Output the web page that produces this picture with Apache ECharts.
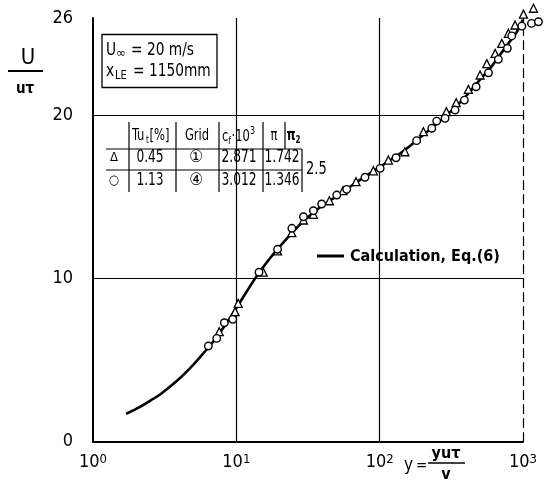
<!DOCTYPE html>
<html><head><meta charset="utf-8">
<script src="https://cdn.jsdelivr.net/npm/echarts@6/dist/echarts.min.js"></script>
<style>html,body{margin:0;background:#fff}#c{width:547px;height:484px}</style>
</head><body><div id="c"></div>
<script>
const FONT = "'DejaVu Sans Condensed','DejaVu Sans',sans-serif";

// Calculation, Eq.(6)
const calcX = [1.7, 2, 2.5, 3, 4, 5, 6, 7, 8, 9, 10, 12, 14, 17, 20, 25, 30, 40, 50, 70, 100, 150, 200, 300, 400, 500, 600, 700, 800, 900, 1000];
const calcU = [1.7, 2.0, 2.5, 2.95, 3.85, 4.7, 5.5, 6.2, 6.9, 7.55, 8.2, 9.3, 10.2, 11.2, 11.95, 12.9, 13.6, 14.5, 15.05, 15.95, 16.85, 17.9, 18.8, 20.1, 21.2, 22.2, 23.0, 23.8, 24.5, 25.1, 25.9];
// Tu = 0.45 % (triangles)
const triX = [7.6, 9.8, 10.3, 15.4, 19.4, 24.4, 29.4, 34.5, 44.6, 55.5, 68.4, 90.4, 115, 150, 202, 292, 342, 416, 502, 559, 639, 711, 791, 880, 1007, 1183];
const triU = [6.74, 7.97, 8.48, 10.4, 11.7, 12.82, 13.6, 13.95, 14.78, 15.4, 15.95, 16.62, 17.28, 17.79, 19.02, 20.25, 20.8, 21.62, 22.5, 23.2, 23.83, 24.44, 25.06, 25.57, 26.24, 26.6];
// Tu = 1.13 % (circles)
const cirX = [6.38, 7.3, 8.25, 9.44, 14.4, 19.4, 24.4, 29.4, 34.5, 39.4, 50.2, 58.9, 79, 100.8, 130, 181, 231, 250, 286, 336, 390, 471, 574, 673, 778, 835, 981, 1146, 1282];
const cirU = [5.86, 6.33, 7.29, 7.5, 10.39, 11.8, 13.09, 13.8, 14.17, 14.58, 15.13, 15.48, 16.22, 16.77, 17.42, 18.47, 19.23, 19.67, 19.84, 20.35, 20.96, 21.78, 22.64, 23.46, 24.14, 24.9, 25.5, 25.67, 25.77];

const yTickLabels = [0, 10, 20, 26];
const gridLinesY = [10, 20];
const gridLinesX = [10, 100];

const tableRow1 = ['\u0394', '0.45', '\u2460', '2.871', '1.742'];
const tableRow2 = ['\u25CB', '1.13', '\u2463', '3.012', '1.346'];
const pi2Value = '2.5';

const zip = (a, b) => a.map((v, i) => [v, b[i]]);

const chart = echarts.init(document.getElementById('c'));

const txt = (x, y, text, size, opts = {}) => ({
  type: 'text', x, y, z: 100, scaleX: opts.sx || 1,
  style: {
    text, fill: '#000', fontSize: size, fontFamily: FONT,
    fontWeight: opts.weight || 'normal',
    textAlign: opts.align || 'left', align: opts.align || 'left',
    textVerticalAlign: 'middle', verticalAlign: 'middle'
  }
});
const ln = (x1, y1, x2, y2, w = 1.2) => ({
  type: 'line', z: 100, shape: { x1, y1, x2, y2 }, style: { stroke: '#000', lineWidth: w }
});

const S = 0.8;
const colCenters = [114, 150, 196, 239, 282];
const graphics = [
  // y axis title
  txt(28, 58, 'U', 22, { align: 'center' }),
  ln(8, 71, 43, 71, 2),
  txt(25, 89, 'u\u03C4', 15, { align: 'center', weight: 'bold' }),
  // x axis title
  txt(404, 466, 'y', 17),
  txt(416, 466, '=', 15),
  txt(446, 454, 'yu\u03C4', 16, { align: 'center', weight: 'bold' }),
  ln(428, 463, 465, 463, 1.5),
  txt(446, 475, 'v', 16, { align: 'center', weight: 'bold' }),
  // info box
  { type: 'rect', z: 100, shape: { x: 102, y: 34.5, width: 115, height: 53 }, style: { fill: '#fff', stroke: '#000', lineWidth: 1.3 } },
  txt(106, 50, 'U', 18, { sx: 0.85 }),
  txt(116, 54, '\u221E', 13),
  txt(131, 50, '= 20 m/s', 18, { sx: 0.85 }),
  txt(106, 71, 'x', 18, { sx: 0.85 }),
  txt(115, 76, 'LE', 13, { sx: 0.85 }),
  txt(133, 71, '= 1150mm', 18, { sx: 0.85 }),
  // table lines
  ln(106, 149, 302, 149), ln(106, 170, 302, 170),
  ln(129, 122, 129, 192), ln(176, 122, 176, 192), ln(219, 122, 219, 192),
  ln(263, 122, 263, 192), ln(285, 122, 285, 149), ln(302, 149, 302, 192),
  // header
  txt(132, 136, 'Tu', 16, { sx: S }),
  txt(146, 140, 't', 10, { sx: S }),
  txt(149.5, 136, '[%]', 16, { sx: S }),
  txt(197, 136, 'Grid', 16, { align: 'center', sx: S }),
  txt(222, 137, 'c', 16, { sx: S }),
  txt(228.5, 141, 'f', 10, { sx: S }),
  txt(231.5, 137, '\u00B710', 16, { sx: S }),
  txt(250, 131, '3', 11, { sx: S }),
  txt(274, 136, '\u03C0', 16, { align: 'center', sx: S }),
  txt(291, 136, '\u03C0', 16, { align: 'center', weight: 'bold', sx: S }),
  txt(298, 140, '2', 10, { align: 'center', weight: 'bold', sx: S }),
  txt(306, 170, pi2Value, 17, { sx: 0.85 })
];
const rowSize = [13, 17, 17, 17, 17];
const rowScale = [1, S, 1, S, S];
tableRow1.forEach((t, i) => graphics.push(txt(colCenters[i], 158, t, rowSize[i], { align: 'center', sx: rowScale[i] })));
tableRow2.forEach((t, i) => graphics.push(txt(colCenters[i], 181, t, rowSize[i], { align: 'center', sx: rowScale[i] })));
// legend
graphics.push(ln(317, 256, 344, 256, 3));
graphics.push(txt(350, 257, 'Calculation, Eq.(6)', 16, { weight: 'bold' }));

const option = {
  animation: false,
  backgroundColor: '#fff',
  grid: { left: 93, right: 24, top: 18, bottom: 42.5 },
  xAxis: [{
    type: 'log', logBase: 10, min: 1, max: 1000,
    axisLine: { lineStyle: { color: '#000', width: 2 } },
    axisTick: { show: false }, splitLine: { show: false },
    axisLabel: {
      color: '#000', fontSize: 18, fontFamily: FONT, margin: 12,
      formatter: v => '10{s|' + Math.round(Math.log10(v)) + '}',
      rich: { s: { fontSize: 13, fontFamily: FONT, color: '#000', verticalAlign: 'top', lineHeight: 12 } }
    }
  }, {
    type: 'log', logBase: 10, min: 1, max: 1000, position: 'top',
    axisLine: { lineStyle: { color: '#000', width: 1.5 } },
    axisTick: { show: false }, splitLine: { show: false }, axisLabel: { show: false }
  }],
  yAxis: [{
    type: 'value', min: 0, max: 26, interval: 1,
    axisLine: { show: true, lineStyle: { color: '#000', width: 2 } },
    axisTick: { show: false }, splitLine: { show: false },
    axisLabel: {
      color: '#000', fontSize: 18, fontFamily: FONT, margin: 20, padding: [6, 0, 0, 0],
      formatter: v => yTickLabels.includes(v) ? String(v) : ''
    }
  }, {
    type: 'value', min: 0, max: 26, position: 'right',
    axisLine: { show: true, lineStyle: { color: '#000', width: 1.2, type: [9, 5] } },
    axisTick: { show: false }, splitLine: { show: false }, axisLabel: { show: false }
  }],
  series: [{
    name: 'Calculation, Eq.(6)', type: 'line', data: zip(calcX, calcU), smooth: 0.3,
    symbol: 'none', lineStyle: { color: '#000', width: 2.6 }, z: 2, clip: false,
    markLine: {
      silent: true, symbol: 'none', label: { show: false },
      lineStyle: { color: '#000', width: 1.2, type: 'solid' },
      data: gridLinesY.map(v => ({ yAxis: v })).concat(gridLinesX.map(v => ({ xAxis: v })))
    }
  }, {
    name: 'Tu 0.45', type: 'scatter', data: zip(triX, triU), symbol: 'triangle', symbolSize: 8, clip: false,
    itemStyle: { color: '#fff', borderColor: '#000', borderWidth: 1.3, opacity: 1 }, z: 5
  }, {
    name: 'Tu 1.13', type: 'scatter', data: zip(cirX, cirU), symbol: 'circle', symbolSize: 7.5, clip: false,
    itemStyle: { color: '#fff', borderColor: '#000', borderWidth: 1.4, opacity: 1 }, z: 6
  }],
  graphic: { elements: graphics }
};
chart.setOption(option);
</script></body></html>
